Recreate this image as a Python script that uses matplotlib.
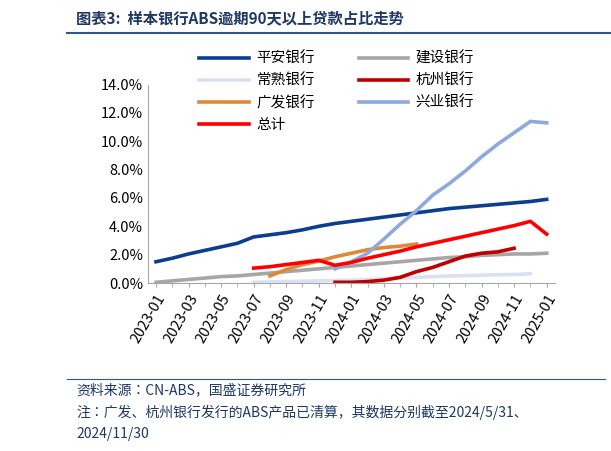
import matplotlib
matplotlib.use("Agg")
import matplotlib.pyplot as plt
from matplotlib import font_manager
import pandas as pd
import numpy as np

cjk = None
for f in font_manager.fontManager.ttflist:
    if 'CJK' in f.name and ('SC' in f.name or cjk is None):
        cjk = f.name
        if 'SC' in f.name:
            break
plt.rcParams['font.family'] = [cjk or 'Noto Sans CJK SC', 'DejaVu Sans']

months = pd.date_range("2023-01", "2025-01", freq="MS").strftime("%Y-%m").tolist()
tick_labels = months[::2]

pingan = [1.5,1.75,2.05,2.3,2.55,2.8,3.25,3.4,3.55,3.75,4.0,4.2,4.35,4.5,4.65,4.8,4.95,5.1,5.25,5.35,5.45,5.55,5.65,5.75,5.9]
jianshe = [0.05,0.15,0.25,0.35,0.45,0.5,0.6,0.7,0.8,0.9,1.0,1.1,1.2,1.3,1.4,1.5,1.6,1.7,1.8,1.85,1.95,2.0,2.05,2.05,2.1]
changshu = [None]*6 + [0.05,0.08,0.1,0.12,0.15,0.18,0.2,0.25,0.3,0.35,0.4,0.45,0.5,0.52,0.55,0.58,0.6,0.65,None]
hangzhou = [None]*11 + [0.05,0.05,0.1,0.2,0.4,0.8,1.1,1.5,1.9,2.1,2.2,2.45,None,None]
guangfa = [None]*7 + [0.5,0.95,1.3,1.55,1.85,2.1,2.35,2.5,2.6,2.75] + [None]*8
xingye = [None]*11 + [1.0,1.5,2.1,3.1,4.15,5.1,6.2,7.0,7.9,8.9,9.8,10.6,11.4,11.3]
total = [None]*6 + [1.05,1.15,1.3,1.45,1.6,1.25,1.45,1.75,2.0,2.25,2.55,2.8,3.05,3.3,3.55,3.8,4.05,4.35,3.45]

series = [
    ("平安银行", pingan, "#0B3D91"),
    ("建设银行", jianshe, "#A6A6A6"),
    ("常熟银行", changshu, "#D9E1F2"),
    ("杭州银行", hangzhou, "#C00000"),
    ("广发银行", guangfa, "#E0883A"),
    ("兴业银行", xingye, "#8EA9DB"),
    ("总计", total, "#FF0000"),
]

fig = plt.figure(figsize=(6.11, 4.51), dpi=100)
ax = fig.add_axes([0.242, 0.3725, 0.666, 0.44])
x = np.arange(len(months))
lines = {}
for name, vals, col in series:
    y = np.array([np.nan if v is None else v for v in vals], dtype=float)
    l, = ax.plot(x, y, color=col, lw=2.6, label=name)
    lines[name] = l

ax.set_xlim(-0.5, len(months) - 0.5)
ax.set_ylim(0, 14)
ax.set_yticks(np.arange(0, 14.1, 2))
ax.set_yticklabels([f"{v:.1f}%" for v in np.arange(0, 14.1, 2)], fontsize=10.5)
ax.set_xticks(x[::2])
ax.set_xticklabels(tick_labels, rotation=60, ha='right', rotation_mode='anchor', fontsize=10.5)
ax.set_xticks(x, minor=True)
for s in ['top', 'right']:
    ax.spines[s].set_visible(False)
for s in ['left', 'bottom']:
    ax.spines[s].set_color('#A6A6A6')
ax.tick_params(axis='y', length=0)
ax.tick_params(axis='x', which='both', direction='out', color='#A6A6A6', length=3)

order = ["平安银行", "常熟银行", "广发银行", "总计", "建设银行", "杭州银行", "兴业银行"]
fig.legend(handles=[lines[n] for n in order], ncol=2, loc='upper left', bbox_to_anchor=(0.305, 0.915),
           frameon=False, fontsize=10.5, handlelength=3.4, columnspacing=3.0,
           labelspacing=0.55, handletextpad=0.5)

fig.text(0.125, 0.96, "图表3:  样本银行ABS逾期90天以上贷款占比走势", fontsize=11,
         style='italic', fontweight='bold', color='#1F3864', va='center')
fig.add_artist(plt.Line2D([0.11, 1.0], [0.927, 0.927], color='#2F5597', lw=1.5))
fig.add_artist(plt.Line2D([0.11, 0.99], [0.16, 0.16], color='#2F5597', lw=0.8))
fig.text(0.125, 0.135, "资料来源：CN-ABS，国盛证券研究所", fontsize=10, style='italic', color='#1F3864', va='center')
fig.text(0.125, 0.085, "注：广发、杭州银行发行的ABS产品已清算，其数据分别截至2024/5/31、", fontsize=10, style='italic', color='#1F3864', va='center')
fig.text(0.125, 0.037, "2024/11/30", fontsize=10, style='italic', color='#1F3864', va='center')

fig.savefig("out.png", dpi=100)
